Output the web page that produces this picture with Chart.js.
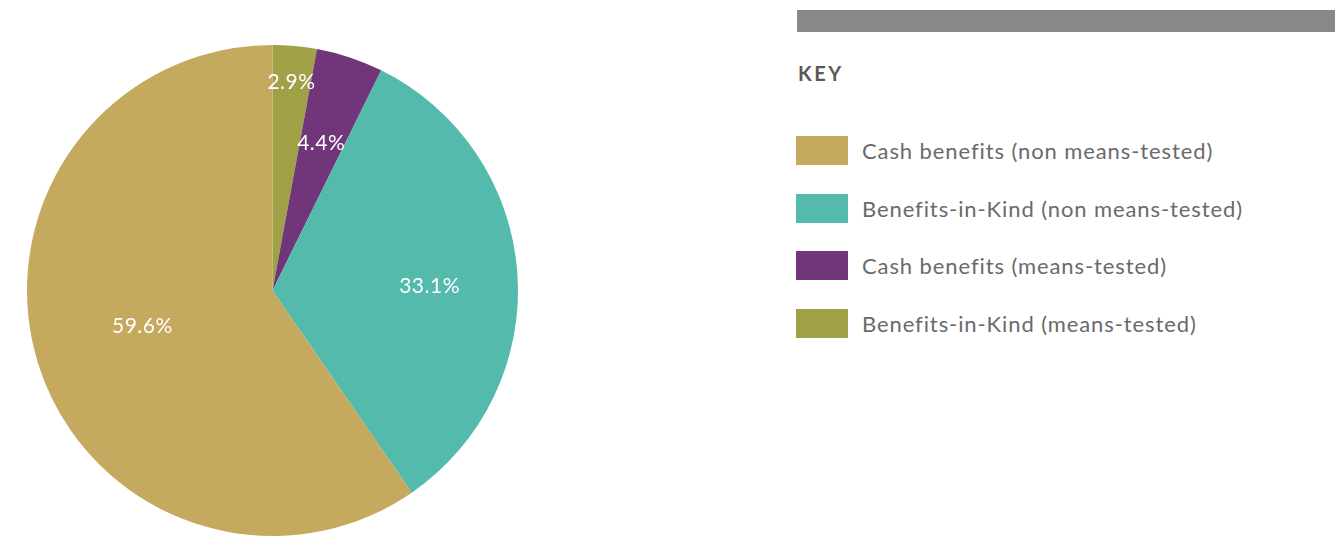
<!DOCTYPE html>
<html>
<head>
<meta charset="utf-8">
<script src="https://cdn.jsdelivr.net/npm/chart.js@4"></script>
<style>
  body { margin: 0; background: #fff; font-family: Lato, "Noto Sans", sans-serif; }
  #wrap { position: relative; width: 1335px; height: 538px; overflow: hidden; }
  #pieBox { position: absolute; left: 0; top: 0; width: 545px; height: 538px; }
  #bar { position: absolute; left: 797px; top: 10px; width: 538px; height: 22px; background: #888888; }
  #keyTitle { position: absolute; left: 798px; top: 61px; font-size: 20px; font-weight: bold; letter-spacing: 2.5px; color: #595959; }
  .item { position: absolute; left: 796px; height: 29px; display: flex; align-items: center; }
  .swatch { width: 52px; height: 29px; margin-right: 14px; }
  .label { font-size: 22px; letter-spacing: 0.9px; color: #6a6a6a; white-space: nowrap; }
</style>
</head>
<body>
<div id="wrap">
  <div id="pieBox"><canvas id="pie"></canvas></div>
  <div id="bar"></div>
  <div id="keyTitle">KEY</div>
  <div id="legend"></div>
</div>
<script>
// legend order
const categories = [
    'Cash benefits (non means-tested)',
    'Benefits-in-Kind (non means-tested)',
    'Cash benefits (means-tested)',
    'Benefits-in-Kind (means-tested)'
];
const shares = [59.6, 33.1, 4.4, 2.9];
const colours = ['#C5A95E', '#54BAAB', '#71367A', '#A0A046'];

// slices go clockwise from 12 o'clock in reverse legend order
const drawOrder = [3, 2, 1, 0];
const labelRadius = [0.85, 0.63, 0.64, 0.55]; // fraction of radius, per slice in draw order
const labelTurn = [0, 0, 0.045, 0.03];        // small angle nudge (rad), per slice in draw order

const legendEl = document.getElementById('legend');
categories.forEach(function (name, i) {
    const row = document.createElement('div');
    row.className = 'item';
    row.style.top = (136 + i * 57.7) + 'px';
    row.innerHTML = '<div class="swatch" style="background:' + colours[i] + '"></div>' +
        '<div class="label">' + name + '</div>';
    legendEl.appendChild(row);
});

const sliceLabels = {
    id: 'sliceLabels',
    afterDatasetsDraw(chart) {
        const ctx = chart.ctx;
        const meta = chart.getDatasetMeta(0);
        ctx.save();
        ctx.fillStyle = '#ffffff';
        ctx.font = '21px Lato, "Noto Sans", sans-serif';
        ctx.letterSpacing = '0.5px';
        ctx.textAlign = 'center';
        ctx.textBaseline = 'middle';
        meta.data.forEach(function (arc, i) {
            const p = arc.getProps(['x', 'y', 'startAngle', 'endAngle', 'outerRadius'], true);
            const mid = (p.startAngle + p.endAngle) / 2 + labelTurn[i];
            const r = p.outerRadius * labelRadius[i];
            const value = chart.data.datasets[0].data[i];
            ctx.fillText(value.toFixed(1) + '%', p.x + Math.cos(mid) * r, p.y + Math.sin(mid) * r);
        });
        ctx.restore();
    }
};

new Chart(document.getElementById('pie').getContext('2d'), {
    type: 'pie',
    data: {
        labels: drawOrder.map(i => categories[i]),
        datasets: [{
            data: drawOrder.map(i => shares[i]),
            backgroundColor: drawOrder.map(i => colours[i]),
            borderWidth: 0
        }]
    },
    options: {
        responsive: true,
        maintainAspectRatio: false,
        animation: false,
        layout: { padding: { left: 27, right: 27, top: 45, bottom: 2 } },
        plugins: {
            legend: { display: false },
            tooltip: { enabled: false }
        }
    },
    plugins: [sliceLabels]
});
</script>
</body>
</html>
